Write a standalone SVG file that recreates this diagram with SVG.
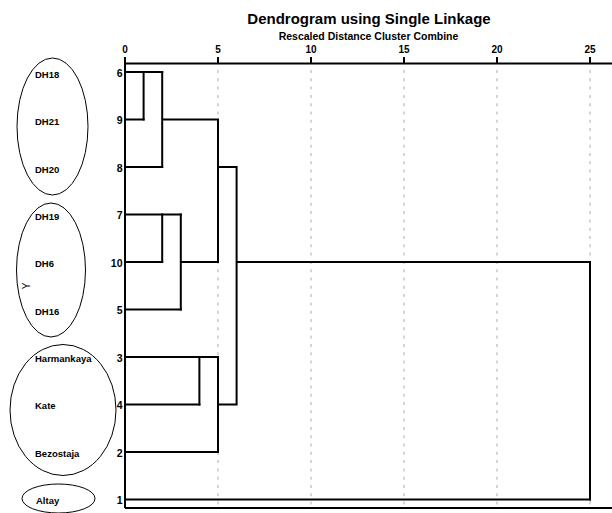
<svg xmlns="http://www.w3.org/2000/svg" width="612" height="513" viewBox="0 0 612 513">
<style>
text{font-family:"Liberation Sans",Arial,sans-serif;fill:#000}
.title{font-size:15px;font-weight:bold;text-anchor:middle}
.sub{font-size:10.5px;font-weight:bold;text-anchor:middle}
.tick{font-size:10px;font-weight:bold;text-anchor:middle}
.num{font-size:10.5px;font-weight:bold;text-anchor:end}
.lab{font-size:9.5px;font-weight:bold}
.ax{font-size:10px}
.grid{stroke:#c4c4c4;stroke-width:1.4;stroke-dasharray:3 5.3;fill:none}
.axis{stroke:#000;stroke-width:2;fill:none}
.link{stroke:#000;stroke-width:2;fill:none;stroke-linecap:square}
.ell{fill:none;stroke:#000;stroke-width:1}
</style>
<rect width="612" height="513" fill="#fff"/>
<text class="title" x="369" y="24">Dendrogram using Single Linkage</text>
<text class="sub" x="368.5" y="40">Rescaled Distance Cluster Combine</text>
<g id="grid">
<path class="grid" d="M218,70V507M311,70V507M404,70V507M497,70V507M590,70V507"/>
</g>
<g id="axis">
<path class="axis" d="M125,57V508M125,63.5H612M125,508H612M218,57V63.5M311,57V63.5M404,57V63.5M497,57V63.5M590,57V63.5"/>
<text class="tick" x="125" y="53">0</text>
<text class="tick" x="218" y="53">5</text>
<text class="tick" x="311" y="53">10</text>
<text class="tick" x="404" y="53">15</text>
<text class="tick" x="497" y="53">20</text>
<text class="tick" x="590" y="53">25</text>
</g>
<g id="connectors">
<path class="link" d="M125,72H162.2M125,119.5H143.6M125,167H162.2M125,214.5H180.8M125,262H162.2M125,309.5H180.8M125,357H218M125,404.5H199.4M125,452H218M125,499.5H590"/>
<path class="link" d="M143.6,72V119.5M162.2,72V167M162.2,119.5H218M162.2,214.5V262M180.8,214.5V309.5M180.8,262H218M218,119.5V262M218,167H236.6M199.4,357V404.5M218,357V452M218,404.5H236.6M236.6,167V404.5M236.6,262H590M590,262V499.5"/>
</g>
<g id="leaf-6"><text class="num" x="122.5" y="76.5">6</text></g>
<g id="leaf-9"><text class="num" x="122.5" y="124">9</text></g>
<g id="leaf-8"><text class="num" x="122.5" y="171.5">8</text></g>
<g id="leaf-7"><text class="num" x="122.5" y="219">7</text></g>
<g id="leaf-10"><text class="num" x="122.5" y="266.5">10</text></g>
<g id="leaf-5"><text class="num" x="122.5" y="314">5</text></g>
<g id="leaf-3"><text class="num" x="122.5" y="361.5">3</text></g>
<g id="leaf-4"><text class="num" x="122.5" y="409">4</text></g>
<g id="leaf-2"><text class="num" x="122.5" y="456.5">2</text></g>
<g id="leaf-1"><text class="num" x="122.5" y="504">1</text></g>
<g id="group-1">
<ellipse class="ell" cx="52.5" cy="126.5" rx="35.5" ry="68.5"/>
<text class="lab" x="35" y="77.5">DH18</text>
<text class="lab" x="35" y="125">DH21</text>
<text class="lab" x="35" y="172.5">DH20</text>
</g>
<g id="group-2">
<ellipse class="ell" cx="51" cy="270" rx="34.5" ry="67"/>
<text class="lab" x="35" y="219.5">DH19</text>
<text class="lab" x="35" y="267">DH6</text>
<text class="lab" x="35" y="315">DH16</text>
<text class="ax" x="29.5" y="286" text-anchor="middle" transform="rotate(-90 29.5 286)">Y</text>
</g>
<g id="group-3">
<ellipse class="ell" cx="63" cy="410" rx="53" ry="65.5"/>
<text class="lab" x="35" y="362">Harmankaya</text>
<text class="lab" x="35" y="409">Kate</text>
<text class="lab" x="35" y="456.5">Bezostaja</text>
</g>
<g id="group-4">
<ellipse class="ell" cx="58.5" cy="498.5" rx="36.5" ry="14.5"/>
<text class="lab" x="36" y="504">Altay</text>
</g>
</svg>
